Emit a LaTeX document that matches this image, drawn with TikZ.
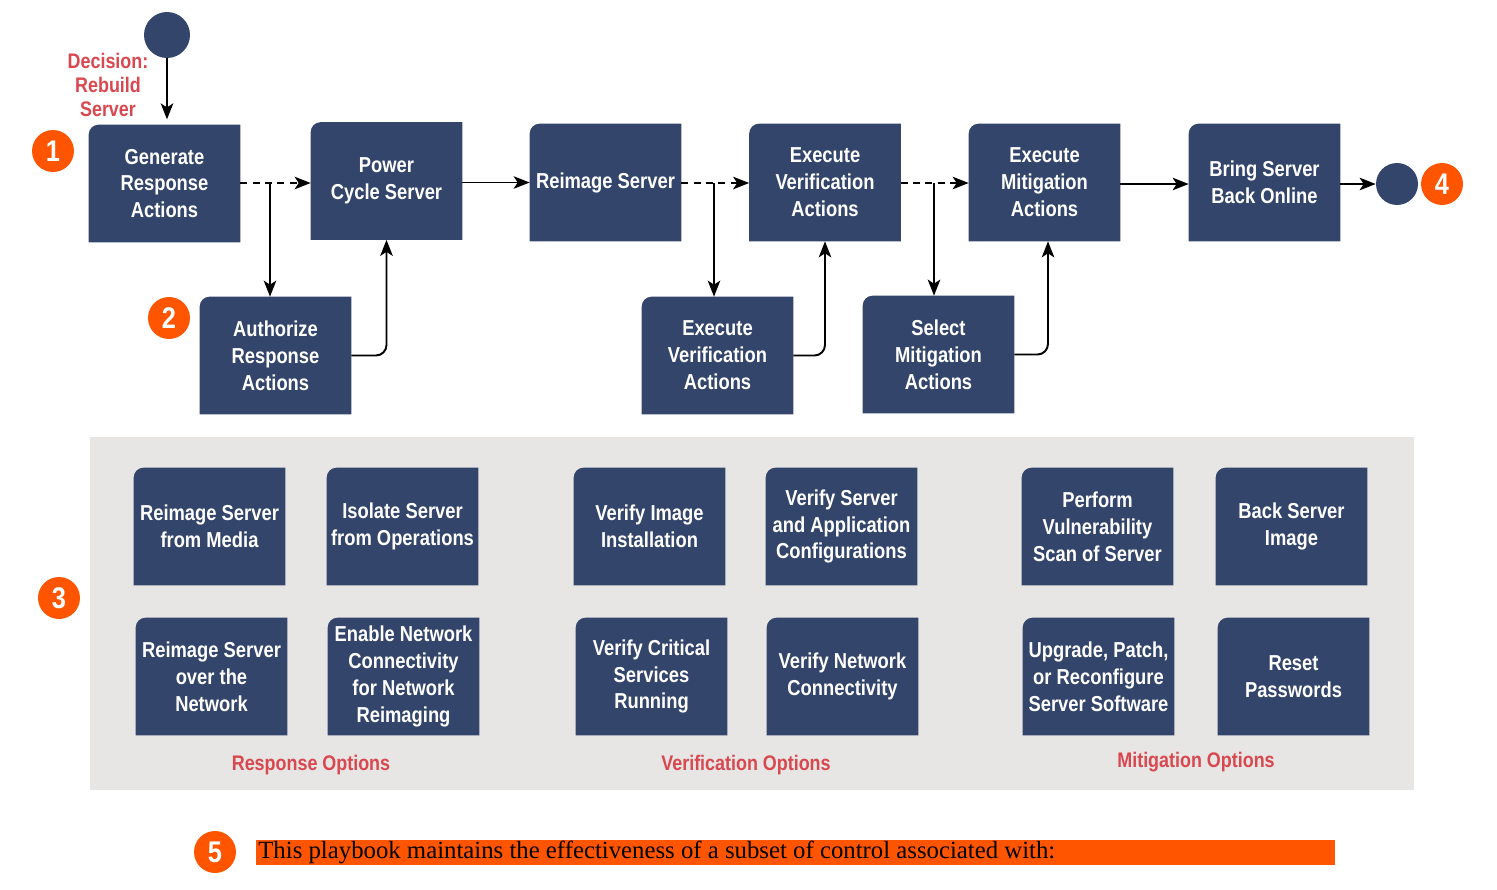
\documentclass[tikz,border=0pt]{standalone}
\usepackage{fontspec}
\usetikzlibrary{arrows.meta}
\newfontfamily\cond[FakeStretch=0.85]{Liberation Sans}
\newfontfamily\serifbar{Liberation Serif}
\definecolor{navy}{HTML}{33456A}
\definecolor{badge}{HTML}{FF5500}
\definecolor{redlbl}{HTML}{D9474F}
\definecolor{panel}{HTML}{E7E6E5}
\pgfdeclarelayer{bgpanel}
\pgfdeclarelayer{bgbox}
\pgfsetlayers{bgpanel,bgbox,main}
\tikzset{
  boxnode/.style={minimum width=3.02cm, minimum height=2.34cm, inner sep=0pt, text=white,
    font=\cond\bfseries\fontsize{12.3}{15.3}\selectfont, align=center},
  badgenode/.style={circle, fill=badge, minimum size=0.84cm, inner sep=0pt, text=white,
    font=\cond\bfseries\fontsize{17}{17}\selectfont},
  dotnode/.style={circle, fill=navy, inner sep=0pt},
  redlabel/.style={text=redlbl, font=\cond\bfseries\fontsize{12}{13.4}\selectfont, align=center},
  arr/.style={-{Stealth[length=0.32cm, width=0.25cm, inset=0.08cm]}, line width=1.1pt, black},
  dashedarr/.style={arr, dash pattern=on 4pt off 3pt},
}
\begin{document}
\begin{tikzpicture}[x=0.02cm, y=-0.02cm]
\useasboundingbox (0,0) rectangle (1497,889);
% panel
\begin{pgfonlayer}{bgpanel}
\fill[panel] (90,437) rectangle (1414,790);
\end{pgfonlayer}
% top row
\node[boxnode] (gen) at (164.5,183.5) {Generate\\Response\\Actions};
\node[boxnode] (pow) at (386.5,181) {Power\\Cycle Server};
\node[boxnode] (rei) at (605.5,182.5) {Reimage Server};
\node[boxnode] (ev) at (825,182.5) {Execute\\Verification\\Actions};
\node[boxnode] (em) at (1044.5,182.5) {Execute\\Mitigation\\Actions};
\node[boxnode] (bring) at (1264.5,182.5) {Bring Server\\Back Online};
% second row
\node[boxnode] (auth) at (275.5,355.5) {Authorize\\Response\\Actions};
\node[boxnode] (ev2) at (717.5,355.5) {Execute\\Verification\\Actions};
\node[boxnode] (sel) at (938.5,354.5) {Select\\Mitigation\\Actions};
% options
\node[boxnode] (o1) at (209.5,526.5) {Reimage Server\\from Media};
\node[boxnode] (o2) at (402.5,526.5) {Isolate Server\\from Operations};
\node[boxnode] (o3) at (649.5,526.5) {Verify Image\\Installation};
\node[boxnode] (o4) at (841.5,526.5) {Verify Server\\and Application\\Configurations};
\node[boxnode] (o5) at (1097.5,526.5) {Perform\\Vulnerability\\Scan of Server};
\node[boxnode] (o6) at (1291.5,526.5) {Back Server\\Image};
\node[boxnode] (p1) at (211.5,676.5) {Reimage Server\\over the\\Network};
\node[boxnode] (p2) at (403.5,676.5) {Enable Network\\Connectivity\\for Network\\Reimaging};
\node[boxnode] (p3) at (651.5,676.5) {Verify Critical\\Services\\Running};
\node[boxnode] (p4) at (842.5,676.5) {Verify Network\\Connectivity};
\node[boxnode] (p5) at (1098.5,676.5) {Upgrade, Patch,\\or Reconfigure\\Server Software};
\node[boxnode] (p6) at (1293.5,676.5) {Reset\\Passwords};
\begin{pgfonlayer}{bgbox}
\foreach \n in {gen,pow,rei,ev,em,bring,auth,ev2,sel,o1,o2,o3,o4,o5,o6,p1,p2,p3,p4,p5,p6}{
  \fill[navy] ([yshift=-0.2cm]\n.north west) arc[start angle=180, end angle=90, radius=0.2cm]
    -- (\n.north east) -- (\n.south east) -- (\n.south west) -- cycle;
}
\end{pgfonlayer}
% start / end
\node[dotnode, minimum size=0.92cm] (start) at (167,35) {};
\node[dotnode, minimum size=0.84cm] (stop) at (1397,184) {};
\node[redlabel] (dec) at (108,85) {Decision:\\Rebuild\\Server};
% badges
\node[badgenode] (b1) at (53,151) {1};
\node[badgenode] (b2) at (169,318) {2};
\node[badgenode] (b3) at (59,598) {3};
\node[badgenode] (b4) at (1442,184) {4};
\node[badgenode] (b5) at (215,852) {5};
% option labels
\node[redlabel] (lr) at (311,765) {Response Options};
\node[redlabel] (lv) at (746,765) {Verification Options};
\node[redlabel] (lm) at (1196,762) {Mitigation Options};
% bottom bar
\fill[badge] (256,840) rectangle (1335,865);
\node[anchor=west, inner sep=0pt, font=\serifbar\fontsize{14.1}{14}\selectfont, text=black] (bar) at (258,852.5)
  {This playbook maintains the effectiveness of a subset of control associated with:};
% connectors
\draw[arr, shorten >=3pt] (start.south) -- (start.south |- gen.north);
\coordinate (j1) at (270,183);
\coordinate (j2) at (714,183);
\coordinate (j3) at (934,183);
\draw[dashedarr] (gen.east |- j1) -- (pow.west |- j1);
\draw[arr] (j1) -- (j1 |- auth.north);
\draw[arr, rounded corners=6pt] (auth.east) -| (pow.south);
\draw[arr] (pow.east |- rei.west) -- (rei.west);
\draw[dashedarr] (rei.east |- j2) -- (ev.west |- j2);
\draw[arr] (j2) -- (j2 |- ev2.north);
\draw[arr, rounded corners=6pt] (ev2.east) -| (ev.south);
\draw[dashedarr] (ev.east |- j3) -- (em.west |- j3);
\draw[arr] (j3) -- (j3 |- sel.north);
\draw[arr, rounded corners=6pt] (sel.east) -| ([xshift=0.07cm]em.south);
\draw[arr] (em.east |- stop) -- (bring.west |- stop);
\draw[arr] (bring.east |- stop) -- (stop.west);
\end{tikzpicture}
\end{document}
